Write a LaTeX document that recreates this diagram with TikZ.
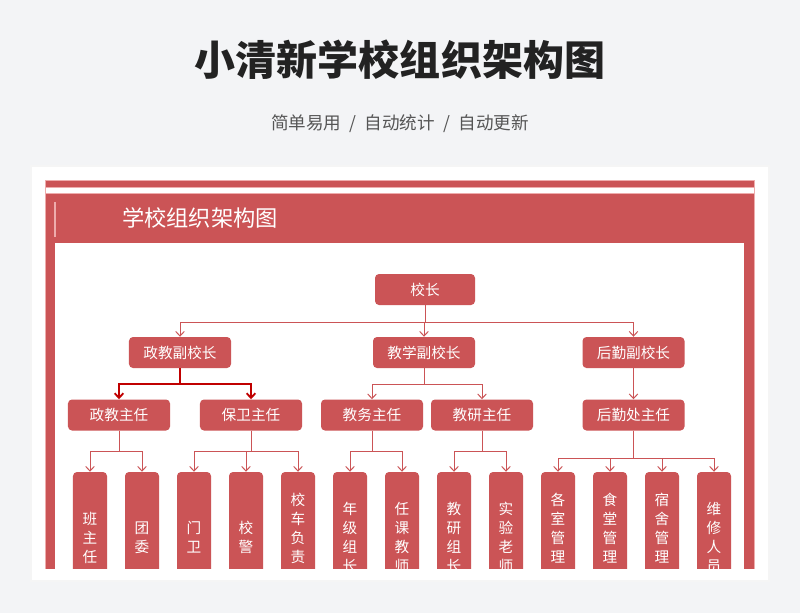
\documentclass[tikz,border=0pt]{standalone}
\usepackage{fontspec}
\setmainfont{Noto Sans CJK SC}
\usetikzlibrary{positioning, arrows.meta}
\definecolor{boxred}{RGB}{203,84,86}
\definecolor{darklink}{RGB}{192,0,0}
\definecolor{pageback}{RGB}{243,244,246}
\definecolor{framepink}{RGB}{238,172,172}
\definecolor{subgray}{RGB}{85,85,85}
\definecolor{titleblack}{RGB}{34,34,34}

\begin{document}
\begin{tikzpicture}[x=0.03cm,y=-0.03cm,
    unit/.style={fill=boxred, rounded corners=0.12cm, text=white, inner sep=0pt,
      font=\fontsize{12.5}{15}\selectfont, minimum width=3.06cm, minimum height=0.93cm},
    leaf/.style={fill=boxred, rounded corners=0.12cm, text=white, inner sep=0pt,
      align=center, font=\fontsize{12.5}{16.2}\selectfont,
      minimum width=1.02cm, minimum height=3.93cm},
    link/.style={draw=boxred, line width=0.85pt, -{Straight Barb[length=1.4mm,width=2.6mm]}},
    mainlink/.style={link, draw=darklink, line width=1.6pt}]
    \useasboundingbox (0,0) rectangle (800,613);
    \fill[pageback] (0,0) rectangle (800,613);

    % titles
    \node[text=titleblack, font=\bfseries\fontsize{35}{40}\selectfont] (title) at (400,60) {小清新学校组织架构图};
    \node[text=subgray, font=\fontsize{15}{18}\selectfont] (subtitle) at (400,124)
      {简单易用\hspace{7pt}/\hspace{7pt}自动统计\hspace{7pt}/\hspace{7pt}自动更新};

    % card and frame
    \fill[black!4] (30,165) rectangle (770,582);
    \fill[white] (32,167) rectangle (768,580);
    \begin{scope}
      \clip (0,0) rectangle (800,568);
      \draw[framepink, fill=boxred] (45.5,180) rectangle (754.5,600);
      \draw[framepink, fill=white] (45.5,187) rectangle (754.5,193);
      \fill[white] (55,243) rectangle (744,600);
      \draw[framepink, line width=2.5pt] (55,202) -- (55,237);
    \end{scope}
    \node[anchor=west, text=white, font=\fontsize{19}{22}\selectfont] (head) at (118,218) {学校组织架构图};

    % top levels
    \node[unit, minimum width=3.0cm] (xz) at (425,289.5) {校长};
    \node[unit] (zjfxz) at (180,352.5) {政教副校长};
    \node[unit] (jxfxz) at (424,352.5) {教学副校长};
    \node[unit] (hqfxz) at (633.5,352.5) {后勤副校长};

    \node[unit] (zjzr) at (119,415) {政教主任};
    \node[unit] (bwzr) at (251,415) {保卫主任};
    \node[unit] (jwzr) at (372,415) {教务主任};
    \node[unit] (jyzr) at (482,415) {教研主任};
    \node[unit] (hqczr) at (633.5,415) {后勤处主任};

    % bottom columns, cut off by the card
    \begin{scope}
      \clip (0,0) rectangle (800,568);
      \node[leaf] (bzr) at (90,537.5) {班\\主\\任};
      \node[leaf] (tw) at (142,537.5) {团\\委};
      \node[leaf] (mw) at (194,537.5) {门\\卫};
      \node[leaf] (xj) at (246,537.5) {校\\警};
      \node[leaf] (xcfz) at (298,537.5) {校\\车\\负\\责\\\phantom{人}};
      \node[leaf] (njzz) at (350,537.5) {年\\级\\组\\长};
      \node[leaf] (rkjs) at (402,537.5) {任\\课\\教\\师};
      \node[leaf] (jyzz) at (454,537.5) {教\\研\\组\\长};
      \node[leaf] (syls) at (506,537.5) {实\\验\\老\\师};
      \node[leaf] (gsgl) at (558,537.5) {各\\室\\管\\理\\\phantom{员}};
      \node[leaf] (stgl) at (610,537.5) {食\\堂\\管\\理\\\phantom{员}};
      \node[leaf] (ssgl) at (662,537.5) {宿\\舍\\管\\理\\\phantom{员}};
      \node[leaf] (wxry) at (714,537.5) {维\\修\\人\\员};
    \end{scope}

    % connectors
    \draw[link] (xz.south) -- ++(0,17) -| (zjfxz.north);
    \draw[link] (xz.south) -- ++(0,17) -| (jxfxz.north);
    \draw[link] (xz.south) -- ++(0,17) -| (hqfxz.north);

    \draw[mainlink] (zjfxz.south) -- ++(0,16) -| (zjzr.north);
    \draw[mainlink] (zjfxz.south) -- ++(0,16) -| (bwzr.north);
    \draw[link] (jxfxz.south) -- ++(0,16) -| (jwzr.north);
    \draw[link] (jxfxz.south) -- ++(0,16) -| (jyzr.north);
    \draw[link] (hqfxz.south) -- (hqczr.north);

    \draw[link] (zjzr.south) -- ++(0,21) -| (bzr.north);
    \draw[link] (zjzr.south) -- ++(0,21) -| (tw.north);
    \draw[link] (bwzr.south) -- ++(0,21) -| (mw.north);
    \draw[link] (bwzr.south) -- ++(0,21) -| (xj.north);
    \draw[link] (bwzr.south) -- ++(0,21) -| (xcfz.north);
    \draw[link] (jwzr.south) -- ++(0,21) -| (njzz.north);
    \draw[link] (jwzr.south) -- ++(0,21) -| (rkjs.north);
    \draw[link] (jyzr.south) -- ++(0,21) -| (jyzz.north);
    \draw[link] (jyzr.south) -- ++(0,21) -| (syls.north);
    \draw[link] (hqczr.south) -- ++(0,28) -| (gsgl.north);
    \draw[link] (hqczr.south) -- ++(0,28) -| (stgl.north);
    \draw[link] (hqczr.south) -- ++(0,28) -| (ssgl.north);
    \draw[link] (hqczr.south) -- ++(0,28) -| (wxry.north);
  \end{tikzpicture}
\end{document}
